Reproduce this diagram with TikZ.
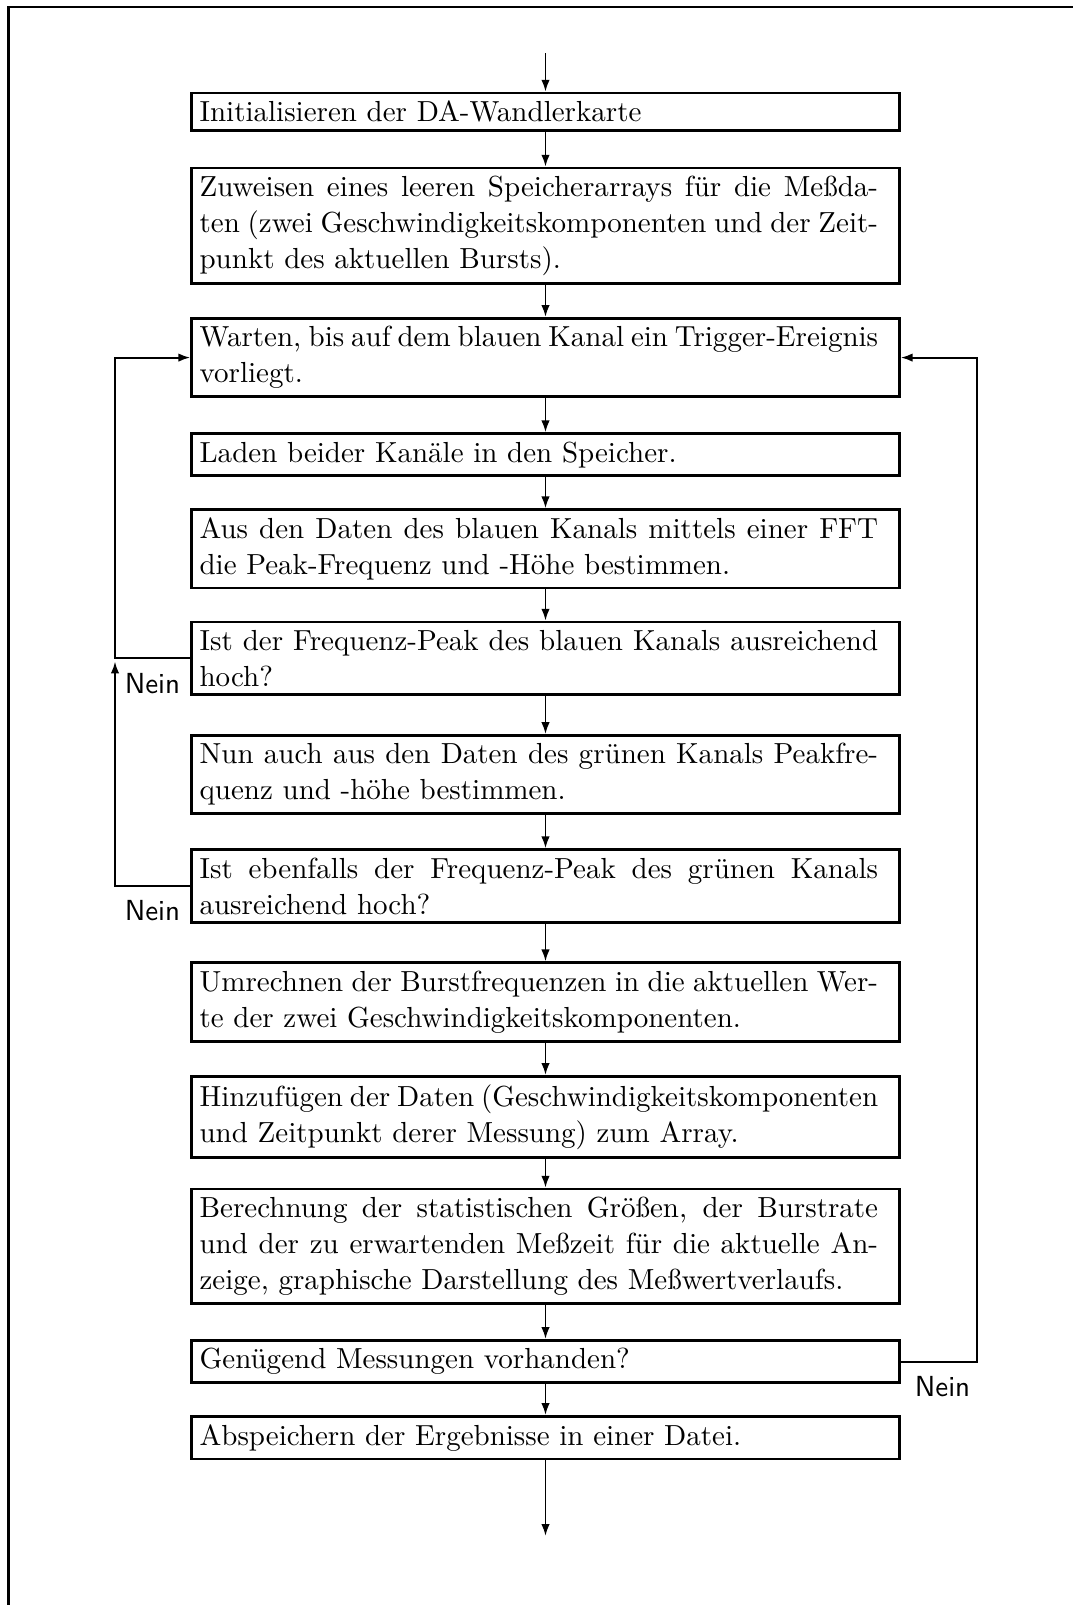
\documentclass[tikz,border=0pt]{standalone}
\usetikzlibrary{arrows.meta}
% one justified line of a box, and a last (ragged) line
\newcommand\fullln[1]{\hbox to 9cm{#1}}
\newcommand\lastln[1]{\hbox to 9cm{#1\hfil}}
\begin{document}
\begin{tikzpicture}[x=0.3774pt, y=-0.3774pt,
  stepbox/.style={draw, line width=1.05pt, inner xsep=3pt, inner ysep=3pt, anchor=north,
    font=\fontsize{10.95}{13.6}\selectfont},
  flow/.style={line width=0.75pt, -{Latex[length=4.5pt,width=3.2pt]}},
  nein/.style={font=\fontsize{10.95}{13.6}\sffamily, inner sep=0pt}]
\useasboundingbox (0,0) rectangle (1073,1605);
\begin{scope}
  \clip (0,0) rectangle (1073,1605);
  \draw[line width=1.1pt] (8.3,7) rectangle (1200,1700);
\end{scope}

\coordinate (top) at (545.5,53.3);
\coordinate (bottom) at (545.5,1536);
\coordinate (lx) at (115,0);
\coordinate (rx) at (977,0);

\node[stepbox] (b1) at (545.5,91.7) {\vbox{%
  \lastln{Initialisieren der DA-Wandlerkarte}}\kern5pt};
\node[stepbox] (b2) at (545.5,166.7) {\vbox{%
  \fullln{Zuweisen eines leeren Speicherarrays für die Meßda-}
  \fullln{ten (zwei Geschwindigkeitskomponenten und der Zeit-}
  \lastln{punkt des aktuellen Bursts).}}\kern5pt};
\node[stepbox] (b3) at (545.5,317) {\vbox{%
  \fullln{Warten, bis auf dem blauen Kanal ein Trigger-Ereignis}
  \lastln{vorliegt.}}\kern5pt};
\node[stepbox] (b4) at (545.5,432.3) {\vbox{%
  \lastln{Laden beider Kanäle in den Speicher.}}\kern5pt};
\node[stepbox] (b5) at (545.5,508.3) {\vbox{%
  \fullln{Aus den Daten des blauen Kanals mittels einer FFT}
  \lastln{die Peak-Frequenz und -Höhe bestimmen.}}\kern5pt};
\node[stepbox] (b6) at (545.5,620.7) {\vbox{%
  \fullln{Ist der Frequenz-Peak des blauen Kanals ausreichend}
  \lastln{hoch?}}\kern5pt};
\node[stepbox] (b7) at (545.5,734.1) {\vbox{%
  \fullln{Nun auch aus den Daten des grünen Kanals Peakfre-}
  \lastln{quenz und -höhe bestimmen.}}\kern5pt};
\node[stepbox] (b8) at (545.5,848.3) {\vbox{%
  \fullln{Ist ebenfalls der Frequenz-Peak des grünen Kanals}
  \lastln{ausreichend hoch?}}\kern5pt};
\node[stepbox] (b9) at (545.5,961.4) {\vbox{%
  \fullln{Umrechnen der Burstfrequenzen in die aktuellen Wer-}
  \lastln{te der zwei Geschwindigkeitskomponenten.}}\kern5pt};
\node[stepbox] (b10) at (545.5,1075) {\vbox{%
  \fullln{Hinzufügen der Daten (Geschwindigkeitskomponenten}
  \lastln{und Zeitpunkt derer Messung) zum Array.}}\kern5pt};
\node[stepbox] (b11) at (545.5,1187.7) {\vbox{%
  \fullln{Berechnung der statistischen Größen, der Burstrate}
  \fullln{und der zu erwartenden Meßzeit für die aktuelle An-}
  \lastln{zeige, graphische Darstellung des Meßwertverlaufs.}}\kern5pt};
\node[stepbox] (b12) at (545.5,1339) {\vbox{%
  \lastln{Genügend Messungen vorhanden?}}\kern5pt};
\node[stepbox] (b13) at (545.5,1415) {\vbox{%
  \lastln{Abspeichern der Ergebnisse in einer Datei.}}\kern5pt};

% main flow
\draw[flow] (top) -- (b1.north);
\foreach \a/\b in {b1/b2,b2/b3,b3/b4,b4/b5,b5/b6,b6/b7,b7/b8,b8/b9,b9/b10,b10/b11,b11/b12,b12/b13}
  \draw[flow] (\a.south) -- (\b.north);
\draw[flow] (b13.south) -- (bottom);

% loops back to the waiting step
\draw[flow] (b6.west) -- (b6.west -| lx) |- (b3.west);
\draw[flow, shorten >=1.2pt] (b8.west) -| (b6.west -| lx);
\draw[flow] (b12.east) -| (rx |- b3.east) -- (b3.east);

\node[nein] (n1) at (152.5,684) {Nein};
\node[nein] (n2) at (152.5,911) {Nein};
\node[nein] (n3) at (942.5,1387) {Nein};
\end{tikzpicture}
\end{document}
